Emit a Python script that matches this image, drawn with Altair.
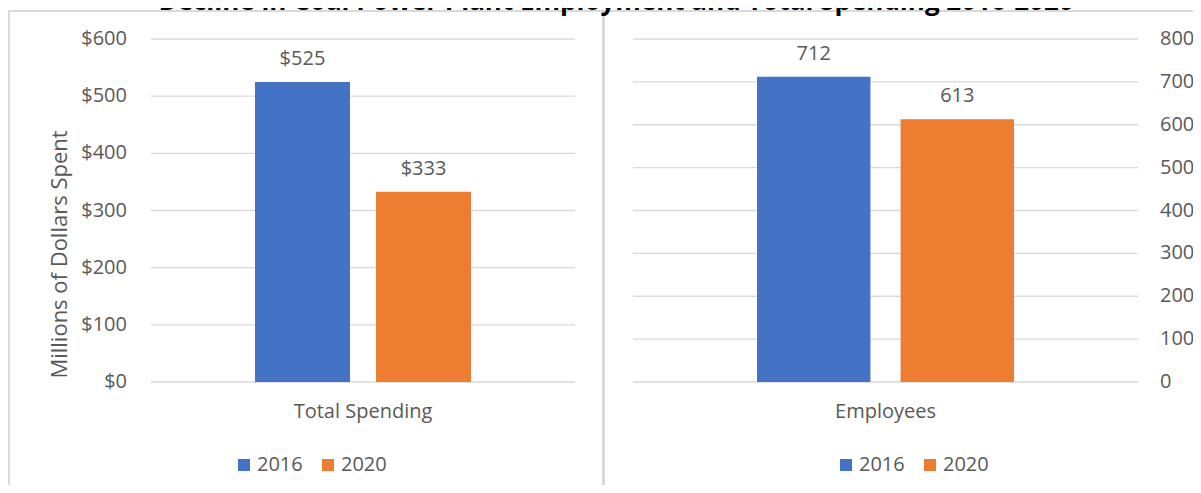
import altair as alt
import pandas as pd

TITLE = "Decline in Coal Power Plant Employment and Total Spending 2016-2020"
years = ["2016", "2020"]
spending = [525, 333]
employees = [712, 613]
spending_ticks = [0, 100, 200, 300, 400, 500, 600]
employee_ticks = [0, 100, 200, 300, 400, 500, 600, 700, 800]
colors = ["#4472C4", "#ED7D31"]

W, H = 1185, 477
FONT = "Open Sans"
GREY = "#595959"
GRID = "#D9D9D9"
FS = 20

spend_df = pd.DataFrame({"category": "Total Spending", "year": years, "value": spending})
emp_df = pd.DataFrame({"category": "Employees", "year": years, "value": employees})


def panel(df, ticks, fmt, x_range, x_pad, off_pad, grid_x, label_x, label_align,
          legend_x, y_title=None):
    tick_df = pd.DataFrame({"tick": ticks})
    cat_df = df[["category"]].drop_duplicates()
    yscale = alt.Scale(domain=[0, ticks[-1]], range=[374, 31], nice=False, zero=True)
    xscale = alt.Scale(range=x_range, paddingInner=0, paddingOuter=x_pad)

    grid = alt.Chart(tick_df).mark_rule(color=GRID, strokeWidth=1.3).encode(
        y=alt.Y("tick:Q", scale=yscale, axis=None),
        x=alt.value(grid_x[0]), x2=alt.value(grid_x[1]))
    tick_labels = alt.Chart(tick_df).mark_text(
        align=label_align, baseline="middle", font=FONT, fontSize=FS, color=GREY
    ).encode(
        y=alt.Y("tick:Q", axis=None),
        x=alt.value(label_x),
        text=alt.Text("tick:Q", format=fmt))

    color = alt.Color(
        "year:N",
        scale=alt.Scale(domain=years, range=colors),
        legend=alt.Legend(orient="none", legendX=legend_x, legendY=447,
                          direction="horizontal", title=None, symbolType="square",
                          symbolSize=144, symbolStrokeWidth=0, labelFont=FONT,
                          labelFontSize=FS, labelColor=GREY, labelOffset=3,
                          columnPadding=15, padding=0),
    )
    xo = alt.XOffset("year:N", scale=alt.Scale(domain=years, paddingInner=off_pad,
                                                paddingOuter=0))
    bars = alt.Chart(df).mark_bar().encode(
        x=alt.X("category:N", scale=xscale, axis=None),
        xOffset=xo,
        y=alt.Y("value:Q", axis=None),
        color=color)
    values = alt.Chart(df).mark_text(dy=-17, baseline="alphabetic", fontSize=FS,
                                     font=FONT, color=GREY).encode(
        x=alt.X("category:N", axis=None),
        xOffset=alt.XOffset("year:N"),
        y=alt.Y("value:Q", axis=None),
        text=alt.Text("value:Q", format=fmt),
    )
    cat_label = alt.Chart(cat_df).mark_text(
        baseline="alphabetic", fontSize=FS, font=FONT, color=GREY
    ).encode(
        x=alt.X("category:N", axis=None),
        y=alt.value(410),
        text="category:N")
    layers = [grid, tick_labels, bars, values, cat_label]
    if y_title:
        layers.append(alt.Chart(pd.DataFrame({"t": [y_title]})).mark_text(
            angle=270, align="center", baseline="middle", fontSize=22, font=FONT,
            color=GREY).encode(text="t:N", x=alt.value(52), y=alt.value(246.5)))
    return alt.layer(*layers)


left = panel(spend_df, spending_ticks, "$,.0f", [143, 567], 0.4815, 0.215,
             (143, 567), 119, "right", 226, "Millions of Dollars Spent")
right = panel(emp_df, employee_ticks, "d", [625, 1130], 0.4825, 0.21,
              (625, 1130), 1152, "left", 828)

one = pd.DataFrame({"k": [0]})
border_left = alt.Chart(one).mark_rule(color=GRID, strokeWidth=2).encode(
    x=alt.value(1), y=alt.value(3), y2=alt.value(H))
border_top = alt.Chart(one).mark_rule(color=GRID, strokeWidth=2).encode(
    x=alt.value(0), x2=alt.value(W), y=alt.value(3))
divider = alt.Chart(one).mark_rule(color=GRID, strokeWidth=3).encode(
    x=alt.value(595.5), y=alt.value(3), y2=alt.value(H))
title = alt.Chart(pd.DataFrame({"t": [TITLE]})).mark_text(
    font=FONT, fontSize=26, fontWeight="bold", color="black", align="center",
    baseline="alphabetic").encode(text="t:N", x=alt.value(608), y=alt.value(2))

chart = alt.layer(border_left, border_top, divider, title, left, right).resolve_scale(
    x="independent", y="independent", xOffset="independent", color="independent"
).properties(
    width=W, height=H, autosize=alt.AutoSizeParams(type="none"), padding=0
).configure_view(stroke=None)

chart.save("out.html", embed_options={"renderer": "svg", "actions": False})
